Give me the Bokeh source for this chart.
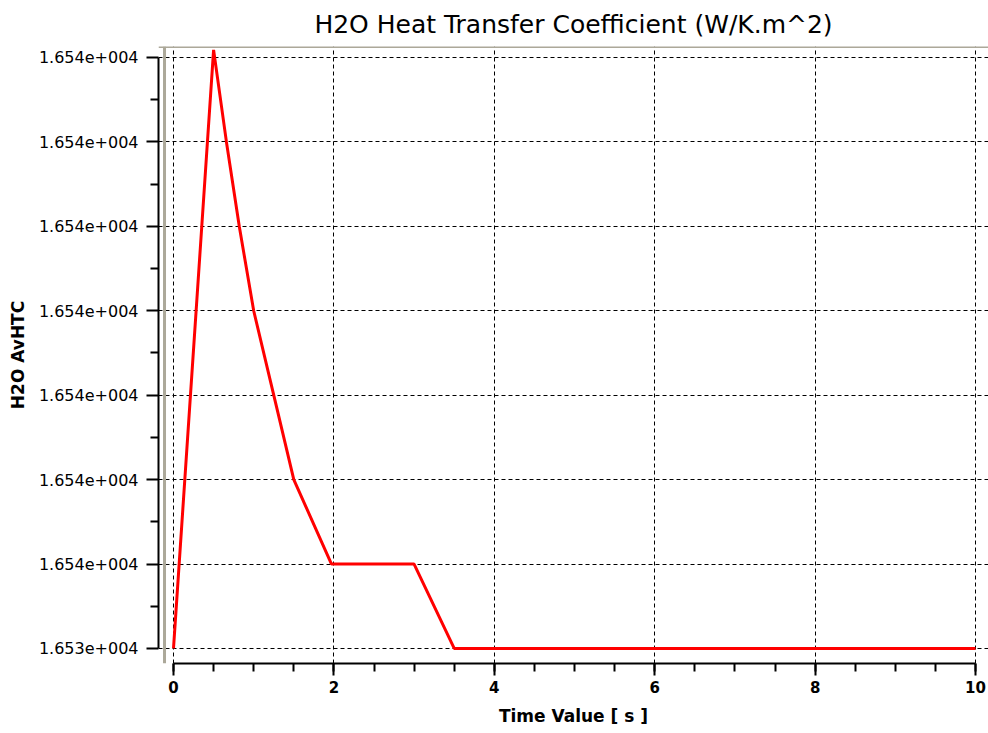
from bokeh.plotting import figure
from bokeh.models import Range1d, FixedTicker, CustomJSTickFormatter, Span
from bokeh.embed import file_html
from bokeh.resources import INLINE

# ---- data ----
time_s = [0.0, 0.5, 0.66, 0.82, 1.0, 1.25, 1.5, 1.97, 3.0, 3.5, 10.0]
htc = [16534.99, 16535.1318, 16535.11, 16535.09, 16535.07, 16535.05,
       16535.03, 16535.01, 16535.01, 16534.99, 16534.99]

y_ticks = [16534.99, 16535.01, 16535.03, 16535.05, 16535.07, 16535.09, 16535.11, 16535.13]
y_minor = [16535.00, 16535.02, 16535.04, 16535.06, 16535.08, 16535.10, 16535.12]
x_ticks = [0, 2, 4, 6, 8, 10]
x_minor = [0, 0.5, 1, 1.5, 2, 2.5, 3, 3.5, 4, 4.5, 5, 5.5, 6, 6.5, 7, 7.5, 8, 8.5, 9, 9.5, 10]

title_text = "H2O Heat Transfer Coefficient (W/K.m^2)"
x_label = "Time Value [ s ]"
y_label = "H2O AvHTC"

# ---- view ----
x_start, x_end = -0.187, 10.162
y_start, y_end = 16534.98644, 16535.1326
grey = "#aca899"
FONT = "DejaVu Sans"

p = figure(width=988, height=733, output_backend="svg", toolbar_location=None,
           x_range=Range1d(x_start, x_end), y_range=Range1d(y_start, y_end),
           min_border_left=158, min_border_right=0, min_border_top=46, min_border_bottom=70)
p.outline_line_color = None
p.background_fill_color = "white"
p.border_fill_color = "white"

p.title.text = title_text
p.title.text_font = FONT
p.title.text_font_size = "25px"
p.title.text_font_style = "normal"
p.title.align = "center"
p.title.text_color = "black"
p.title.standoff = 15

# grey frame borders (top and left)
p.add_layout(Span(location=y_end, dimension="width", line_color=grey, line_width=3, level="underlay"))
p.add_layout(Span(location=-0.112, dimension="height", line_color=grey, line_width=3, level="underlay"))

# axes
xa = p.xaxis[0]
xa.ticker = FixedTicker(ticks=x_ticks, minor_ticks=x_minor)
xa.bounds = (0, 10)
xa.axis_label = x_label
ya = p.yaxis[0]
ya.ticker = FixedTicker(ticks=y_ticks, minor_ticks=y_minor)
ya.bounds = (y_ticks[0], y_ticks[-1])
ya.axis_label = y_label
ya.formatter = CustomJSTickFormatter(code="""
const s = tick.toExponential(3);
const parts = s.split('e');
const e = parts[1];
return parts[0] + 'e' + e[0] + e.slice(1).padStart(3, '0');
""")

for ax in (xa, ya):
    ax.axis_line_color = "black"
    ax.axis_line_width = 2
    ax.major_tick_line_color = "black"
    ax.major_tick_line_width = 2
    ax.major_tick_in = 0
    ax.major_tick_out = 12
    ax.minor_tick_line_color = "black"
    ax.minor_tick_line_width = 2
    ax.minor_tick_in = 0
    ax.minor_tick_out = 8
    ax.major_label_text_font = FONT
    ax.major_label_text_color = "black"
    ax.axis_label_text_font = FONT
    ax.axis_label_text_font_style = "bold"
    ax.axis_label_text_color = "black"
    ax.axis_label_text_font_size = "17px"

xa.major_label_text_font_size = "15px"
xa.major_label_text_font_style = "bold"
xa.major_label_standoff = 5
xa.axis_label_standoff = 10
ya.major_label_text_font_size = "16px"
ya.major_label_standoff = 8
ya.axis_label_standoff = 8

# grid
for g in (p.xgrid[0], p.ygrid[0]):
    g.grid_line_color = "black"
    g.grid_line_width = 1
    g.grid_line_dash = "4 3"
p.xgrid[0].ticker = xa.ticker
p.ygrid[0].ticker = ya.ticker

p.line(time_s, htc, line_color="#ff0000", line_width=3)

open("out.html", "w").write(file_html(p, INLINE))
